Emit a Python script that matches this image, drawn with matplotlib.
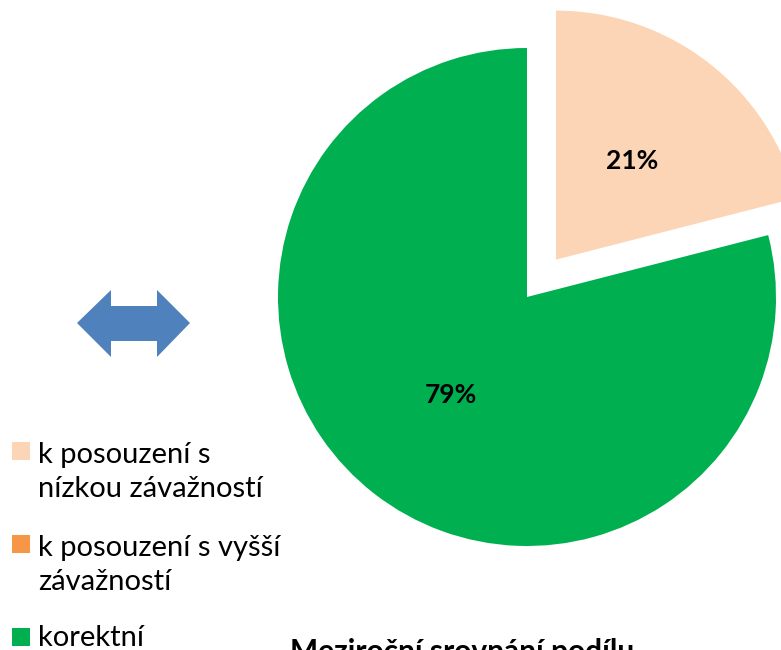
import matplotlib
matplotlib.use("Agg")
import matplotlib.pyplot as plt
from matplotlib.patches import Polygon, Rectangle

plt.rcParams['font.family'] = ['Lato', 'DejaVu Sans']

# data
labels = ['k posouzení s\nnízkou závažností', 'k posouzení s vyšší\nzávažností', 'korektní']
shares = [21, 0, 79]
colors = ['#FBD5B5', '#F79646', '#00B050']
title = 'Meziroční srovnání podílu'

W, H = 781, 650
R = 249
fig = plt.figure(figsize=(W / 100, H / 100), dpi=100)
ax = fig.add_axes([0, 0, 1, 1])


def pct(p):
    return f'{p:.0f}%' if p > 0.5 else ''


# explode is in data units (pixels here): pull the small slice out
explode = [0.19 * R if i == 0 else 0 for i in range(len(shares))]
wedges, _, autotexts = ax.pie(shares, colors=colors, explode=explode, startangle=90,
                              counterclock=False, radius=R, center=(527, H - 297),
                              autopct=pct, pctdistance=0.5, frame=True)
ax.set_xlim(0, W)
ax.set_ylim(0, H)
ax.set_aspect('equal')
ax.axis('off')
for t in autotexts:
    t.set_fontsize(19)
    t.set_fontweight('bold')

# double arrow on the left
arrow = [(77, 323), (111, 290), (111, 306), (157, 306), (157, 290), (190, 323),
         (157, 357), (157, 341), (111, 341), (111, 357)]
ax.add_patch(Polygon([(x, H - y) for x, y in arrow], closed=True, fc='#4F81BD', ec='none'))

# legend drawn by hand: square next to first line of each label
line_step = 37
for i, (lab, col) in enumerate(zip(labels, colors)):
    yc = 451 + i * 93
    ax.add_patch(Rectangle((12, H - yc - 9), 18, 18, fc=col, ec='none'))
    # baseline alignment follows the last line, so shift down by the extra lines
    nextra = lab.count('\n')
    ax.text(38, H - (yc + 9 + nextra * line_step), lab, fontsize=21,
            va='baseline', ha='left', linespacing=1.4)

fig.text(290 / W, 1 - 638 / H, title, fontsize=21.5, fontweight='bold', va='top', ha='left')

fig.savefig('out.png', dpi=100)
